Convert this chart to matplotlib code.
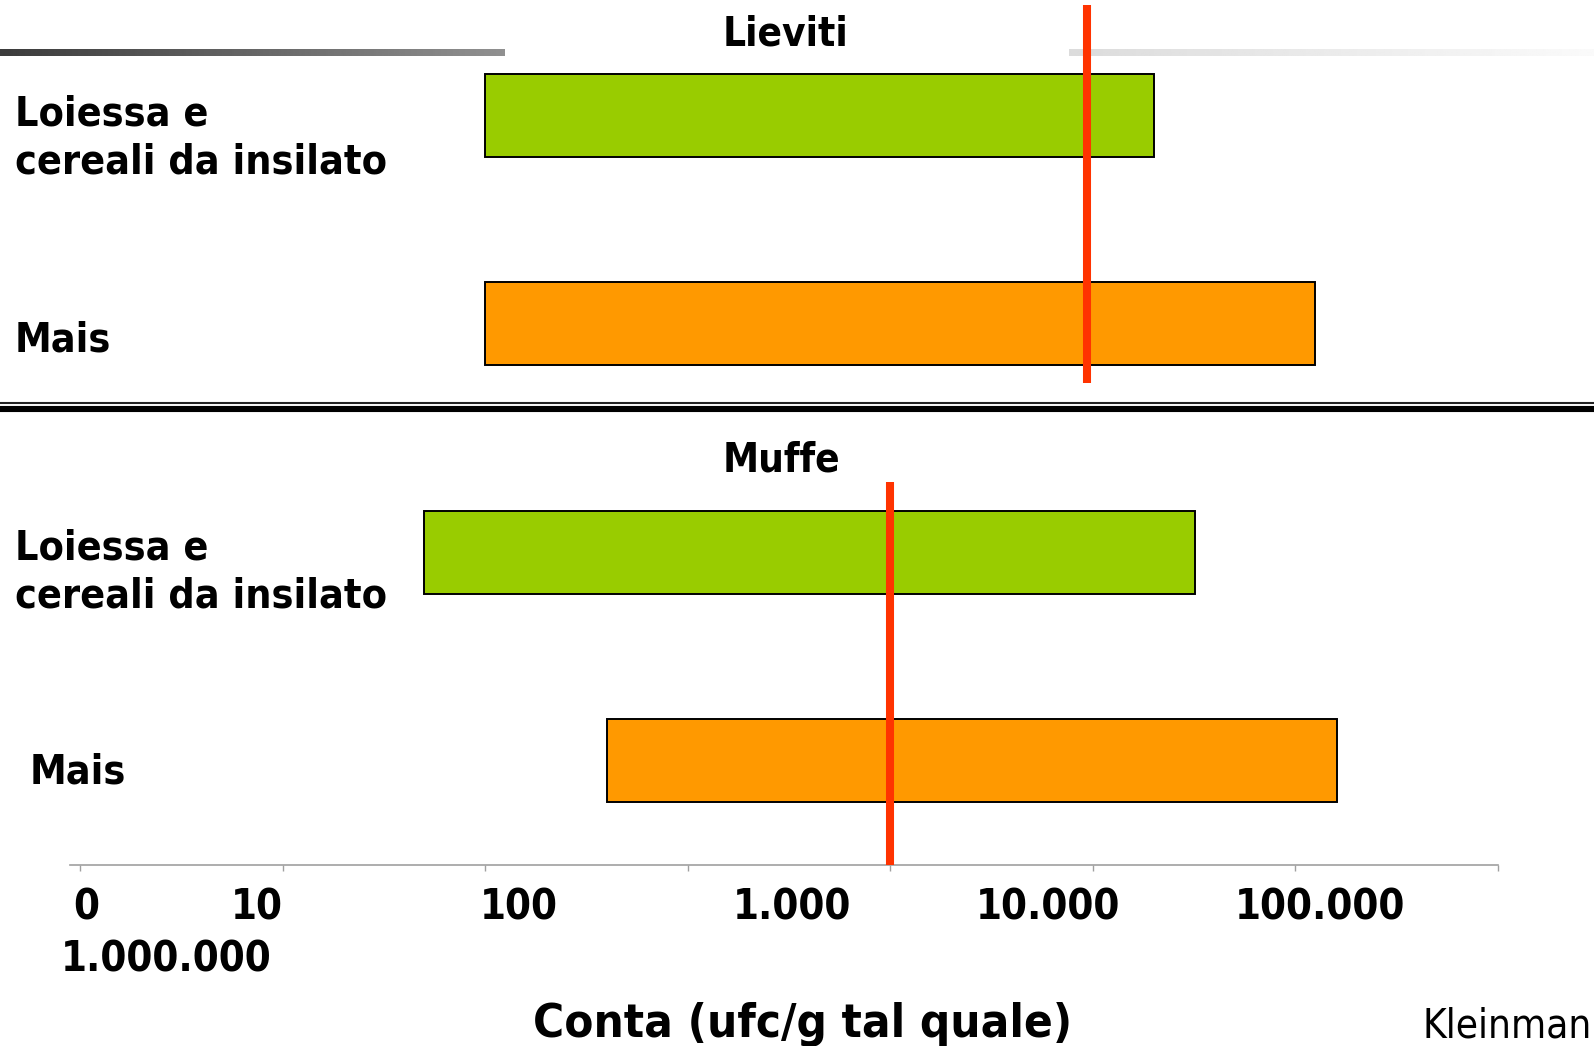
import numpy as np
import matplotlib
matplotlib.use("Agg")
import matplotlib.pyplot as plt
from matplotlib.ticker import FixedLocator, NullLocator, NullFormatter

plt.rcParams['font.family'] = ['DejaVu Sans']
plt.rcParams['font.stretch'] = 'condensed'

# range of counts (ufc/g) per forage type
categorie = ["Loiessa e\ncereali da insilato", "Mais"]
lieviti_min = [100, 100]
lieviti_max = [2.0e5, 1.25e6]
muffe_min = [50, 400]
muffe_max = [3.2e5, 1.6e6]
soglia_lieviti = 9.3e4
soglia_muffe = 1.0e4

colori = ["#99CC00", "#FF9900"]
tick_pos = [1e0, 1e1, 1e2, 1e3, 1e4, 1e5, 1e6, 1e7]
tick_testi = ["0", "10", "100", "1.000", "10.000", "100.000"]
tick_testi_x = [73, 231, 480, 733, 976, 1235]

W, H = 1594, 1046
fig = plt.figure(figsize=(W / 100, H / 100), dpi=100)

# background layer in pixel units for decorations and text
bg = fig.add_axes([0, 0, 1, 1], zorder=0)
bg.imshow(np.linspace(0.235, 0.565, 256)[None, :], cmap="gray", vmin=0, vmax=1,
          extent=[0, 505, 56, 49], aspect="auto")
bg.imshow(np.linspace(0.86, 0.98, 256)[None, :], cmap="gray", vmin=0, vmax=1,
          extent=[1069, W, 56, 49], aspect="auto")
bg.plot([0, W], [403, 403], color="#222222", lw=1.5, solid_capstyle="butt")
bg.plot([0, W], [409, 409], color="black", lw=4.4, solid_capstyle="butt")
bg.set_xlim(0, W)
bg.set_ylim(H, 0)
bg.axis("off")


def pannello(top, bottom):
    return fig.add_axes([70 / W, 1 - bottom / H, (1498 - 70) / W, (bottom - top) / H],
                        zorder=2, facecolor="none")


xmin = 10 ** ((70 - 80.3) / 202.43)
y = np.arange(len(categorie))

ax1 = pannello(5, 383)
ax1.barh(y, np.array(lieviti_max) - np.array(lieviti_min), left=lieviti_min, height=0.4,
         color=colori, edgecolor="black", linewidth=1.4)
ax1.axvline(soglia_lieviti, color="#FF3300", lw=5.8, zorder=5)
ax1.set_xscale("log")
ax1.set_xlim(xmin, 1e7)
ax1.set_ylim(1.289, -0.5325)
ax1.axis("off")

ax2 = pannello(482, 865)
ax2.barh(y, np.array(muffe_max) - np.array(muffe_min), left=muffe_min, height=0.4,
         color=colori, edgecolor="black", linewidth=1.4)
ax2.axvline(soglia_muffe, ymin=0.0104, color="#FF3300", lw=5.8, zorder=5)
ax2.set_xscale("log")
ax2.set_xlim(xmin, 1e7)
ax2.set_ylim(1.502, -0.339)
for s in ["top", "left", "right"]:
    ax2.spines[s].set_visible(False)
ax2.spines["bottom"].set_color("#A0A0A0")
ax2.spines["bottom"].set_linewidth(1.2)
ax2.xaxis.set_major_locator(FixedLocator(tick_pos))
ax2.xaxis.set_minor_locator(NullLocator())
ax2.xaxis.set_major_formatter(NullFormatter())
ax2.tick_params(axis="x", length=4, width=1, color="#A0A0A0")
ax2.set_yticks([])

# panel titles
bg.text(786, 46, "Lieviti", ha="center", va="baseline", fontsize=29, fontweight="bold")
bg.text(781, 471, "Muffe", ha="center", va="baseline", fontsize=29, fontweight="bold")

# category labels
for riga, base in zip(categorie[0].split("\n"), [125, 173]):
    bg.text(15, base, riga, ha="left", va="baseline", fontsize=29.5, fontweight="bold")
    bg.text(15, base + 434, riga, ha="left", va="baseline", fontsize=29.5, fontweight="bold")
bg.text(15, 351, categorie[1], ha="left", va="baseline", fontsize=29.5, fontweight="bold")
bg.text(30, 783, categorie[1], ha="left", va="baseline", fontsize=29.5, fontweight="bold")

# axis labels
for t, x in zip(tick_testi, tick_testi_x):
    bg.text(x, 920, t, ha="left", va="baseline", fontsize=30, fontweight="bold")
bg.text(61, 972, "1.000.000", ha="left", va="baseline", fontsize=30, fontweight="bold")

bg.text(803, 1037, "Conta (ufc/g tal quale)", ha="center", va="baseline",
        fontsize=34, fontweight="bold")
bg.text(1592, 1037, "Kleinman", ha="right", va="baseline", fontsize=29)

fig.savefig("out.png", dpi=100)
